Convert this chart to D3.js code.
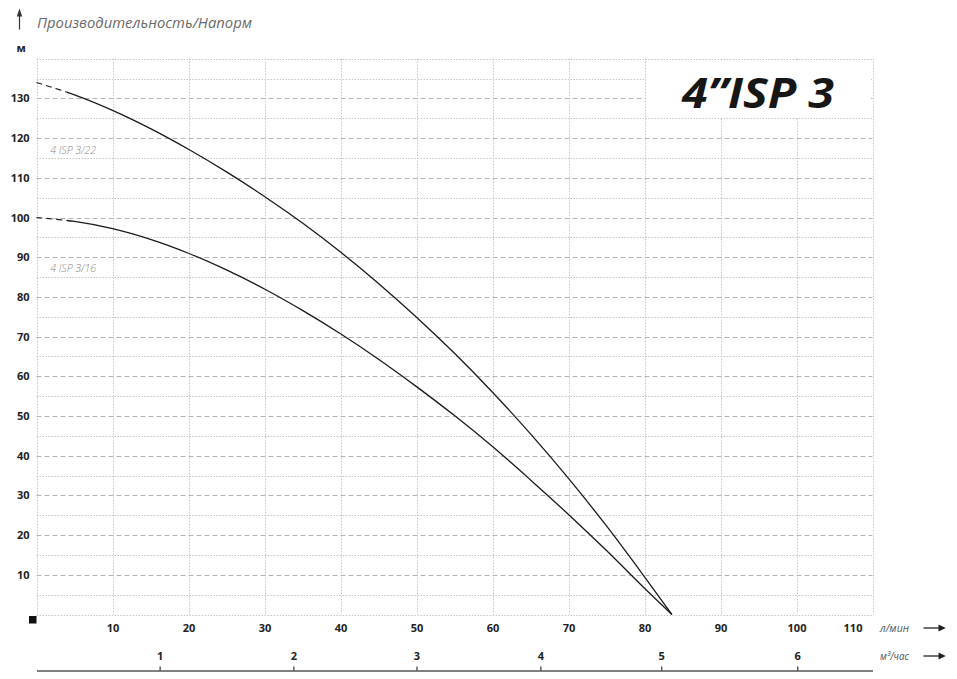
<!DOCTYPE html>
<html><head><meta charset="utf-8">
<script src="https://cdn.jsdelivr.net/npm/d3@7"></script>
<style>
body{margin:0;background:#fff}
svg{display:block}
text{font-family:"Open Sans","DejaVu Sans",sans-serif}
</style>
</head><body>
<svg id="chart" width="957" height="679"></svg>
<script>
// ---- data ----
const flow    = [0, 5, 10, 15, 20, 25, 30, 35, 40, 45, 50, 55, 60, 65, 70, 75, 80, 83.6];
const head22  = [134, 130.9, 127, 122.4, 117.2, 111.5, 105.3, 98.6, 91.3, 83.4, 74.9, 65.8, 56, 45.5, 34.3, 22.3, 9.5, 0];
const head16  = [100, 99, 97.2, 94.5, 91, 86.8, 82, 76.6, 70.7, 64.3, 57.4, 50.1, 42.3, 33.9, 25.2, 16.1, 6.6, 0];
const seriesNames = ["4 ISP 3/22", "4 ISP 3/16"];
const seriesLabelHead = [115.9, 86.3];
const xTicks = [10, 20, 30, 40, 50, 60, 70, 80, 90, 100, 110];
const yTicks = [10, 20, 30, 40, 50, 60, 70, 80, 90, 100, 110, 120, 130];
const m3Ticks = [1, 2, 3, 4, 5, 6];
const m3TickFlow = [16.2, 33.8, 50, 66.3, 82.2, 100.1];   // position of each m³/h tick on the l/min scale
const dashedUntil = 4;   // curves are dashed for flow below this value
const titleText = "Производительность/Напорм";
const modelText = "4”ISP 3";
const yUnit = "м";
const xUnit1 = "л/мин";
const xUnit2 = "м³/час";

// ---- scales ----
const svg = d3.select("#chart");
const x = d3.scaleLinear().domain([0, 110]).range([36.5, 872.5]);
const y = d3.scaleLinear().domain([0, 140]).range([614.5, 58.7]);

// ---- grid ----
const grid = svg.append("g");
const hVals = d3.range(0, 141, 5);
const isMajor = d => d % 10 === 0 && d > 0 && d < 140;
grid.selectAll("line.h").data(hVals).join("line")
  .attr("x1", x(0)).attr("x2", x(110))
  .attr("y1", d => Math.round(y(d)) + 0.5).attr("y2", d => Math.round(y(d)) + 0.5)
  .attr("stroke", d => isMajor(d) ? "#b4b4b4" : "#c6c6c6")
  .attr("stroke-width", 1)
  .attr("stroke-dasharray", d => isMajor(d) ? "5,3" : "1.5,1.5");
const vVals = d3.range(0, 111, 10);
grid.selectAll("line.v").data(vVals).join("line")
  .attr("x1", d => Math.round(x(d)) + 0.5).attr("x2", d => Math.round(x(d)) + 0.5)
  .attr("y1", y(140)).attr("y2", y(0))
  .attr("stroke", "#c6c6c6").attr("stroke-width", 1)
  .attr("stroke-dasharray", "1.5,1.5");

// white box behind the model title
svg.append("rect")
  .attr("x", x(80) + 1.5).attr("y", y(140) + 1.5)
  .attr("width", x(110) - x(80) - 3).attr("height", y(125) - y(140) - 2.5)
  .attr("fill", "#fff");

// ---- curves ----
const defs = svg.append("defs");
defs.append("clipPath").attr("id", "cDash").append("rect")
  .attr("x", 0).attr("y", 0).attr("width", x(dashedUntil)).attr("height", 679);
defs.append("clipPath").attr("id", "cSolid").append("rect")
  .attr("x", x(dashedUntil)).attr("y", 0).attr("width", 957).attr("height", 679);

const line = d3.line().x(d => x(d[0])).y(d => y(d[1])).curve(d3.curveCatmullRom.alpha(0.5));
[head22, head16].forEach(h => {
  const pts = flow.map((f, i) => [f, h[i]]);
  svg.append("path").attr("d", line(pts)).attr("fill", "none")
    .attr("stroke", "#1a1a1a").attr("stroke-width", 1.3)
    .attr("clip-path", "url(#cSolid)");
  svg.append("path").attr("d", line(pts)).attr("fill", "none")
    .attr("stroke", "#1a1a1a").attr("stroke-width", 1.1)
    .attr("stroke-dasharray", "6,4")
    .attr("clip-path", "url(#cDash)");
});

// series labels
svg.selectAll("text.sl").data(seriesNames).join("text")
  .attr("class", "sl")
  .attr("x", x(1.8)).attr("y", (d, i) => y(seriesLabelHead[i]))
  .attr("font-size", 11).attr("font-style", "italic").attr("font-weight", 300)
  .attr("fill", "#888").attr("textLength", 46).attr("lengthAdjust", "spacingAndGlyphs")
  .text(d => d);

// ---- axes ----
const yAxis = svg.append("g").attr("transform", `translate(${x(0)},0)`)
  .call(d3.axisLeft(y).tickValues(yTicks).tickSize(0).tickPadding(7));
yAxis.select(".domain").remove();
yAxis.selectAll("text").attr("font-size", 11).attr("font-weight", 700).attr("fill", "#222")
  .attr("font-family", "'Open Sans',sans-serif");

const xAxis = svg.append("g")
  .call(d3.axisBottom(x).tickValues(xTicks).tickSize(0));
xAxis.select(".domain").remove();
xAxis.selectAll("text").attr("y", 632).attr("dy", null)
  .attr("font-size", 11).attr("font-weight", 700).attr("fill", "#222")
  .attr("font-family", "'Open Sans',sans-serif")
  .attr("dx", d => d === 110 ? -20 : 0);

const m3Axis = svg.append("g").attr("transform", `translate(0,670.5)`)
  .call(d3.axisTop(x).tickValues(m3TickFlow).tickFormat((d, i) => m3Ticks[i])
    .tickSizeInner(4).tickSizeOuter(0).tickPadding(6.5));
m3Axis.select(".domain").attr("stroke", "#555").attr("stroke-width", 1.4);
m3Axis.selectAll(".tick line").attr("stroke", "#333").attr("stroke-width", 1.2);
m3Axis.selectAll("text").attr("font-size", 11).attr("font-weight", 700).attr("fill", "#222")
  .attr("font-family", "'Open Sans',sans-serif");

// origin marker
svg.append("rect").attr("x", x(0) - 7.5).attr("y", y(0) + 1.5).attr("width", 7.5).attr("height", 7.5)
  .attr("fill", "#111");

// ---- titles and units ----
svg.append("text").attr("x", 37).attr("y", 28.3)
  .attr("font-size", 15).attr("font-style", "italic").attr("fill", "#6a6a6a")
  .attr("textLength", 215).attr("lengthAdjust", "spacingAndGlyphs")
  .text(titleText);

// up arrow
svg.append("line").attr("x1", 19.5).attr("x2", 19.5).attr("y1", 15).attr("y2", 29.5)
  .attr("stroke", "#333").attr("stroke-width", 1.2);
svg.append("path").attr("d", "M16.8,16.5 L19.5,8.5 L22.2,16.5 Z").attr("fill", "#333");

svg.append("text").attr("x", 16.5).attr("y", 51.5)
  .attr("font-size", 11).attr("font-weight", 700).attr("fill", "#222").text(yUnit);

svg.append("text").attr("x", 682).attr("y", 108.3)
  .attr("font-size", 41).attr("font-weight", 700).attr("font-style", "italic").attr("fill", "#161616")
  .attr("textLength", 152).attr("lengthAdjust", "spacingAndGlyphs")
  .text(modelText);

// units on x axes with arrows
[[xUnit1, 628], [xUnit2, 656]].forEach(([t, cy]) => {
  svg.append("text").attr("x", 880).attr("y", cy + 4)
    .attr("font-size", 11).attr("font-style", "italic").attr("fill", "#555")
    .attr("textLength", 29).attr("lengthAdjust", "spacingAndGlyphs").text(t);
  svg.append("line").attr("x1", 923.5).attr("x2", 940).attr("y1", cy).attr("y2", cy)
    .attr("stroke", "#222").attr("stroke-width", 1.3);
  svg.append("path").attr("d", `M938.5,${cy - 3.6} L945.8,${cy} L938.5,${cy + 3.6} Z`).attr("fill", "#222");
});
</script>
</body></html>
